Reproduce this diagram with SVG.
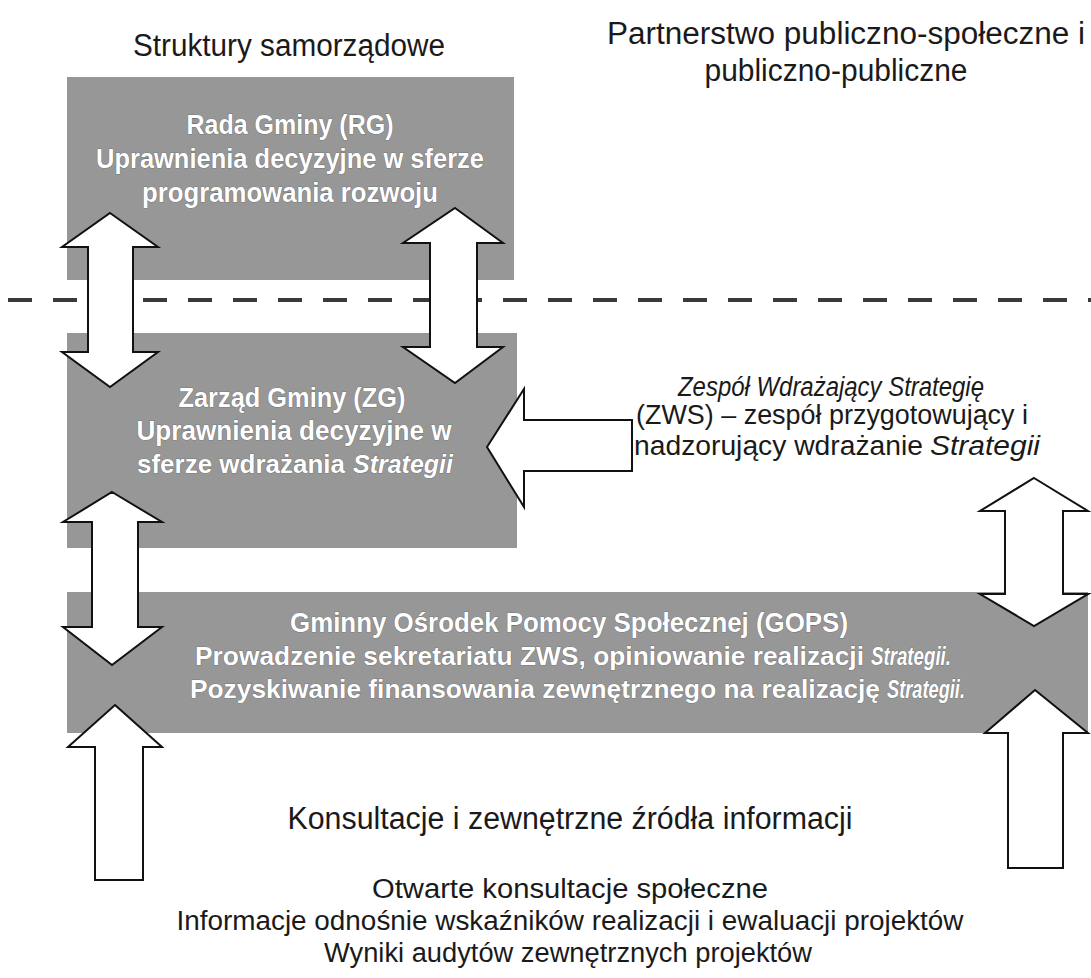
<svg xmlns="http://www.w3.org/2000/svg" width="1091" height="978" viewBox="0 0 1091 978">
<style>
.box{fill:#979797}
.arr{fill:#fff;stroke:#111;stroke-width:2;stroke-linejoin:miter}
.bt{font-family:"Liberation Sans",Arial,sans-serif;font-weight:bold;font-size:27px;fill:#fff;stroke:#5a5a5a;stroke-width:0.7;paint-order:stroke;text-anchor:middle}
.sm{font-size:26px}
.t{font-family:"Liberation Sans",Arial,sans-serif;font-size:31px;fill:#1a1a1a;text-anchor:middle}
.s{font-family:"Liberation Sans",Arial,sans-serif;font-size:27px;fill:#1a1a1a;text-anchor:middle}
.l{text-anchor:start}
.i{font-style:italic}
.dash{stroke:#3a3a3a;stroke-width:4;stroke-dasharray:24 21;fill:none}
</style>
<rect width="1091" height="978" fill="#fff"/>
<g id="title-left"><text class="t" x="289" y="56" textLength="312" lengthAdjust="spacingAndGlyphs">Struktury samorządowe</text></g>
<g id="title-right">
<text class="t" x="846" y="44" textLength="478" lengthAdjust="spacingAndGlyphs">Partnerstwo publiczno-społeczne i</text>
<text class="t" x="836" y="81" textLength="263" lengthAdjust="spacingAndGlyphs">publiczno-publiczne</text>
</g>
<line class="dash" x1="8" y1="300" x2="1091" y2="300"/>
<g id="rg">
<rect class="box" x="67" y="77" width="447" height="203"/>
<text class="bt" x="290" y="134" textLength="207" lengthAdjust="spacingAndGlyphs">Rada Gminy (RG)</text>
<text class="bt" x="290" y="168" textLength="388" lengthAdjust="spacingAndGlyphs">Uprawnienia decyzyjne w sferze</text>
<text class="bt" x="290" y="202" textLength="296" lengthAdjust="spacingAndGlyphs">programowania rozwoju</text>
</g>
<g id="zg">
<rect class="box" x="67" y="333" width="450" height="215"/>
<text class="bt" x="292" y="407" textLength="227" lengthAdjust="spacingAndGlyphs">Zarząd Gminy (ZG)</text>
<text class="bt" x="294" y="440" textLength="315" lengthAdjust="spacingAndGlyphs">Uprawnienia decyzyjne w</text>
<text class="bt sm l" x="137" y="473" textLength="208" lengthAdjust="spacingAndGlyphs">sferze wdrażania</text>
<text class="bt sm l i" x="353" y="473" textLength="100" lengthAdjust="spacingAndGlyphs">Strategii</text>
</g>
<g id="gops">
<rect class="box" x="67" y="592" width="1021" height="141"/>
<text class="bt" x="569" y="632" textLength="558" lengthAdjust="spacingAndGlyphs">Gminny Ośrodek Pomocy Społecznej (GOPS)</text>
<text class="bt sm l" x="195" y="665" textLength="669" lengthAdjust="spacingAndGlyphs">Prowadzenie sekretariatu ZWS, opiniowanie realizacji</text>
<text class="bt sm l i" x="871" y="665" textLength="80" lengthAdjust="spacingAndGlyphs">Strategii.</text>
<text class="bt sm l" x="190" y="698" textLength="690" lengthAdjust="spacingAndGlyphs">Pozyskiwanie finansowania zewnętrznego na realizację</text>
<text class="bt sm l i" x="887" y="698" textLength="78" lengthAdjust="spacingAndGlyphs">Strategii.</text>
</g>
<g id="zws">
<text class="s i" x="831" y="396" textLength="306" lengthAdjust="spacingAndGlyphs">Zespół Wdrażający Strategię</text>
<text class="s" x="832" y="424" textLength="392" lengthAdjust="spacingAndGlyphs">(ZWS) – zespół przygotowujący i</text>
<text class="s l" x="634" y="455" textLength="289" lengthAdjust="spacingAndGlyphs">nadzorujący wdrażanie</text>
<text class="s l i" x="930" y="455" textLength="110" lengthAdjust="spacingAndGlyphs">Strategii</text>
</g>
<g id="consult">
<text class="t" x="570" y="829" textLength="565" lengthAdjust="spacingAndGlyphs">Konsultacje i zewnętrzne źródła informacji</text>
<text class="s" x="570" y="898" textLength="396" lengthAdjust="spacingAndGlyphs">Otwarte konsultacje społeczne</text>
<text class="s" x="570" y="930" textLength="787" lengthAdjust="spacingAndGlyphs">Informacje odnośnie wskaźników realizacji i ewaluacji projektów</text>
<text class="s" x="568" y="962" textLength="488" lengthAdjust="spacingAndGlyphs">Wyniki audytów zewnętrznych projektów</text>
</g>
<g id="connectors">
<polygon class="arr" points="110,213 158,247 133,247 133,352 158,352 110,387 62,352 88,352 88,247 62,247"/>
<polygon class="arr" points="455,208 503,243 477,243 477,347 503,347 455,383 403,347 430,347 430,243 403,243"/>
<polygon class="arr" points="487,447 524,389 524,420 632,420 632,471 524,471 524,507"/>
<polygon class="arr" points="112,492 162,522 138,522 138,627 162,627 112,665 63,627 92,627 92,522 63,522"/>
<polygon class="arr" points="1034,478 1088,511 1063,511 1063,594 1088,594 1034,626 980,594 1005,594 1005,511 980,511"/>
<polygon class="arr" points="115,705 162,747 143,747 143,880 95,880 95,747 68,747"/>
<polygon class="arr" points="1035,690 1088,733 1063,733 1063,868 1008,868 1008,733 985,733"/>
</g>
</svg>
